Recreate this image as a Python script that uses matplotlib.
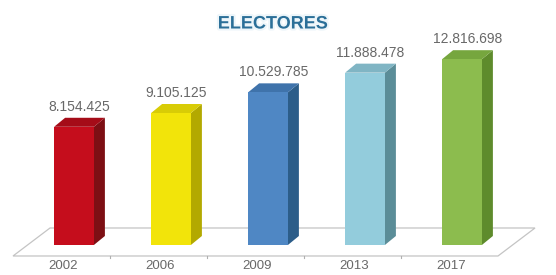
import matplotlib
matplotlib.use("Agg")
import matplotlib.pyplot as plt
from matplotlib.patches import Polygon
import matplotlib.patheffects as pe

years = ['2002', '2006', '2009', '2013', '2017']
electores = [8154425, 9105125, 10529785, 11888478, 12816698]
value_labels = ['8.154.425', '9.105.125', '10.529.785', '11.888.478', '12.816.698']
front_colors = ['#c50d1c', '#f2e40a', '#4f87c4', '#93ccdc', '#8cbc4e']
side_colors = ['#7d0f14', '#b3a900', '#2c5d89', '#5b8d98', '#5e8b2c']
top_colors = ['#a50c18', '#d8cc06', '#3f73ab', '#80b5c4', '#76a63e']

plt.rcParams['font.family'] = ['Liberation Sans', 'DejaVu Sans']

fig = plt.figure(figsize=(5.56, 2.75), dpi=100)
ax = fig.add_axes([0, 0, 1, 1])
ax.set_xlim(-0.763, 4.969)
ax.set_ylim(-2.07e6, 16.9e6)
ax.axis('off')

px_x = 1 / 97.0
px_y = 1e6 / 14.5
w = 0.41
dx = 11 * px_x
dy = 9 * px_y

# floor
f_front = -11 * px_y
f_back = 17 * px_y
sh_front = -12.5 * px_x
sh_back = 24.5 * px_x
n = len(years)
floor = Polygon([(-0.5 + sh_front, f_front), (-0.5 + sh_back, f_back),
                 (n - 0.5 + sh_back, f_back), (n - 0.5 + sh_front, f_front)],
                closed=True, facecolor='white', edgecolor='#c4c4c4', lw=0.9, zorder=0)
ax.add_patch(floor)
for i in range(1, n):
    xb = i - 0.5 + sh_front
    ax.plot([xb, xb], [f_front, f_front - 2 * px_y], color='#b0b0b0', lw=0.8, zorder=1)

xs = list(range(n))
ax.bar(xs, electores, width=w, color=front_colors, zorder=3)
for i, v in enumerate(electores):
    xr = i + w / 2
    xl = i - w / 2
    ax.add_patch(Polygon([(xr, 0), (xr + dx, dy), (xr + dx, v + dy), (xr, v)],
                         closed=True, facecolor=side_colors[i], edgecolor='none', zorder=2))
    ax.add_patch(Polygon([(xl, v), (xl + dx, v + dy), (xr + dx, v + dy), (xr, v)],
                         closed=True, facecolor=top_colors[i], edgecolor='none', zorder=2))
    ax.text(i + dx / 2, v + dy + 4 * px_y, value_labels[i], ha='center', va='bottom',
            fontsize=10, color='#686868')
    ax.text(i + sh_front + 1.5 * px_x, -1.48e6, years[i], ha='center', va='center',
            fontsize=9.5, color='#686868')

fig.text(273 / 556, 1 - 24 / 275, 'ELECTORES', ha='center', va='center',
         fontsize=13, fontweight='bold', color='#2b6f98',
         path_effects=[pe.withStroke(linewidth=3, foreground='#eef6fa')])

fig.savefig('out.png', dpi=100)
